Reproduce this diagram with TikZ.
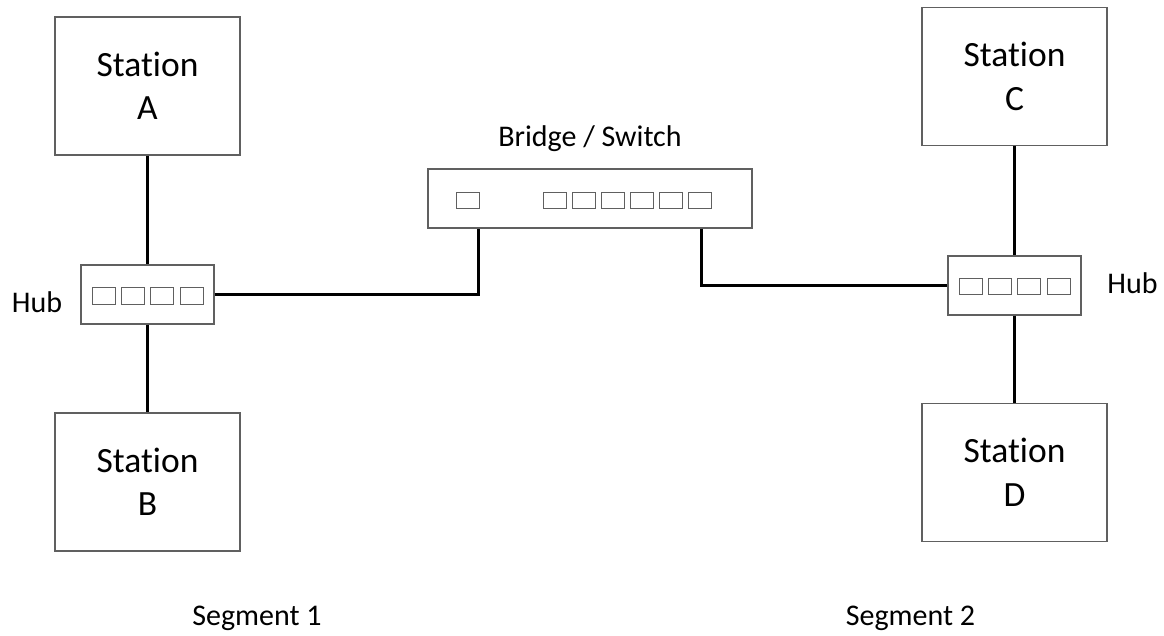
\documentclass[tikz,border=0pt]{standalone}
\usepackage{fontspec}
\setmainfont[RawFeature=-liga]{Carlito}
\usetikzlibrary{calc}
\definecolor{edge}{HTML}{606060}
\tikzset{
  station/.style={draw=edge, line width=1.2pt, minimum width=185pt, minimum height=138pt, inner sep=0pt, align=center, font=\fontsize{35.5}{43.5}\selectfont},
  device/.style={draw=edge, line width=1.2pt, minimum height=59pt, inner sep=0pt},
  port/.style={draw=edge, line width=1pt, minimum width=23pt, minimum height=16.5pt, inner sep=0pt},
  lbl/.style={anchor=base, inner sep=0pt, font=\fontsize{30}{36}\selectfont},
  wire/.style={draw=black, line width=3.2pt}
}
\begin{document}
\begin{tikzpicture}[x=1pt, y=-1pt]
\useasboundingbox (0,0) rectangle (1164,635);
% stations
\node[station] (A) at (147.5,86) {Station\\A};
\node[station] (B) at (147.5,482) {Station\\B};
\node[station] (C) at (1014.5,76.5) {Station\\C};
\node[station] (D) at (1014.5,472.5) {Station\\D};
% hubs and bridge
\node[device, minimum width=133pt] (hubL) at (147.5,294.5) {};
\node[device, minimum width=133pt] (hubR) at (1014.5,285.5) {};
\node[device, minimum width=324pt] (br) at (590,198.5) {};
% hub ports
\foreach \i/\dx in {1/-44,2/-14.7,3/14.7,4/44} {
  \node[port] (pl\i) at ($(hubL.center)+(\dx,1.5)$) {};
  \node[port] (pr\i) at ($(hubR.center)+(\dx,1)$) {};
}
% bridge ports
\node[port] (bp0) at ($(br.center)+(-122,2)$) {};
\foreach \i/\dx in {1/-35.5,2/-6.5,3/22.5,4/51.5,5/80.5,6/109.5} {
  \node[port] (bp\i) at ($(br.center)+(\dx,2)$) {};
}
% labels
\node[lbl] (hubLlbl) at (37,312) {Hub};
\node[lbl] (hubRlbl) at (1132.5,293) {Hub};
\node[lbl] (brlbl) at (590,146) {Bridge / Switch};
\node[lbl] (seg1) at (257,625) {Segment 1};
\node[lbl] (seg2) at (910.5,625) {Segment 2};
% connector endpoints on the bridge
\coordinate (brL) at ([xshift=51pt]br.south west);
\coordinate (brR) at ([xshift=274pt]br.south west);
% wires
\draw[wire] (A.south) -- (hubL.north);
\draw[wire] (hubL.south) -- (B.north);
\draw[wire] (C.south) -- (hubR.north);
\draw[wire] (hubR.south) -- (D.north);
\draw[wire] (hubL.east) -| (brL);
\draw[wire] (brR) |- (hubR.west);
\end{tikzpicture}
\end{document}
